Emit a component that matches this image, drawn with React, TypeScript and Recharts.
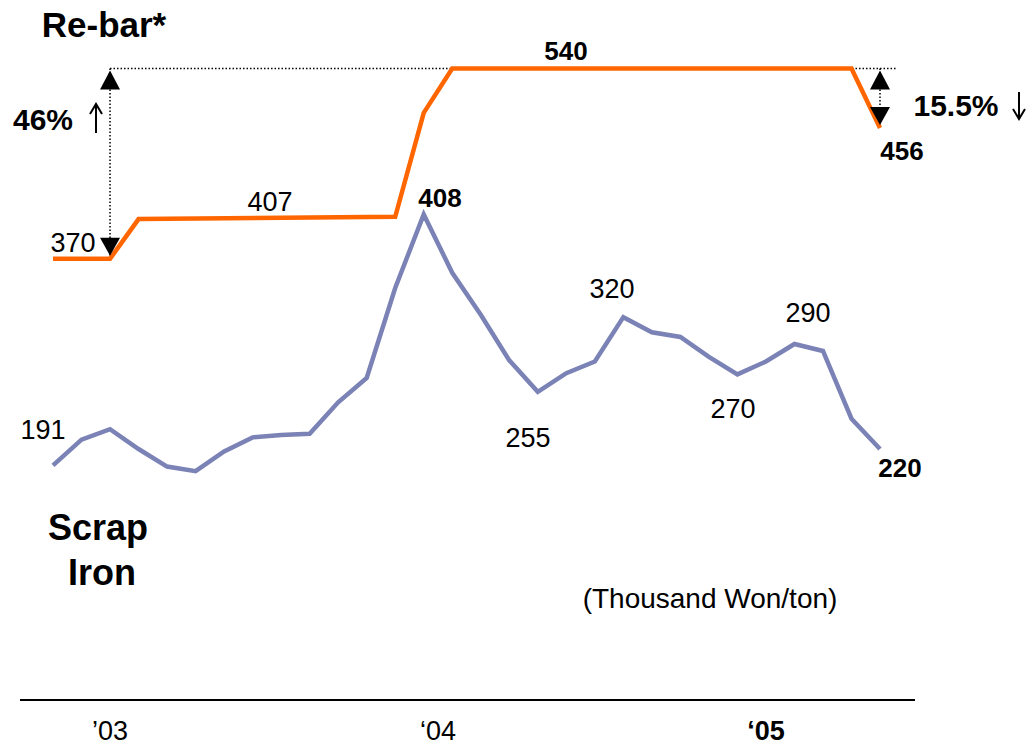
import { LineChart, Line, XAxis, YAxis, ReferenceLine, ReferenceDot } from "recharts"

// month index (0 = first month shown)
const periods = [0, 1, 2, 3, 4, 5, 6, 7, 8, 9, 10, 11, 12, 13, 14, 15, 16, 17, 18, 19, 20, 21, 22, 23, 24, 25, 26, 27, 28, 29]
const scrapIron = [193, 215, 224, 207, 192, 188, 205, 217, 219, 220, 247, 268, 345, 408, 358, 322, 283, 256, 272, 282, 320, 307, 303, 286, 271, 282, 297, 291, 233, 207]
const rebar = [370, null, 370, 404, null, null, null, null, null, null, null, null, 406, 495, 533, null, null, null, null, null, null, null, null, null, null, null, null, null, 533, 482]
const yearTicks = [2, 13.5, 25]
const yearLabels = ["\u201903", "\u201804", "\u201805"]

const chartData = periods.map((p, k) => ({ i: p, scrap: scrapIron[k], rebar: rebar[k] }))

const FONT = "'Liberation Sans', Arial, sans-serif"
const ORANGE = "#FF6600"
const BLUE = "#7B82B5"

const YearTick = ({ x, y, payload, index }: any) => {
    const k = yearTicks.indexOf(payload.value)
    return <text x={x} y={y + 32} textAnchor="middle" fontFamily="'Liberation Sans Narrow', 'Liberation Sans', Arial, sans-serif"
        fontSize={27} fontWeight={k === 2 ? 700 : 400} fill="#000">{yearLabels[k >= 0 ? k : index]}</text>
}

const UpArrow = ({ cx, cy }: any) => <path d={`M${cx},${cy + 2} L${cx + 10},${cy + 21} L${cx - 10},${cy + 21} Z`} fill="#000" />
const DownArrow = ({ cx, cy }: any) => <path d={`M${cx - 10},${cy - 21} L${cx + 10},${cy - 21} L${cx},${cy - 3} Z`} fill="#000" />

type Note = { t: string, x: number, y: number, size: number, bold?: boolean }
const notes: Note[] = [
    { t: "Re-bar*", x: 104, y: 37, size: 35, bold: true },
    { t: "46%", x: 43, y: 130, size: 30, bold: true },
    { t: "15.5%", x: 956, y: 116, size: 30, bold: true },
    { t: "540", x: 566, y: 60, size: 26, bold: true },
    { t: "407", x: 270, y: 211, size: 27 },
    { t: "370", x: 73, y: 252, size: 27 },
    { t: "408", x: 440, y: 207, size: 26, bold: true },
    { t: "456", x: 902, y: 160, size: 26, bold: true },
    { t: "191", x: 43, y: 439, size: 27 },
    { t: "255", x: 528, y: 447, size: 27 },
    { t: "320", x: 612, y: 298, size: 27 },
    { t: "270", x: 733, y: 418, size: 27 },
    { t: "290", x: 808, y: 322, size: 27 },
    { t: "220", x: 900, y: 477, size: 26, bold: true },
    { t: "Scrap", x: 98, y: 540, size: 36, bold: true },
    { t: "Iron", x: 102, y: 585, size: 36, bold: true },
    { t: "(Thousand Won/ton)", x: 710, y: 608, size: 28 },
]

const App = () => {
    return <div style={{ position: "absolute", left: 0, top: 0, width: 1030, height: 746, overflow: "hidden", background: "#fff" }}>
        <LineChart width={1030} height={746} data={chartData} margin={{ top: 37, right: 115, bottom: 16, left: 20 }}>
            <XAxis type="number" dataKey="i" domain={[0, 29]} ticks={yearTicks} padding={{ left: 33, right: 35 }} height={30}
                axisLine={{ stroke: "#000", strokeWidth: 2 }} tickLine={false} tick={<YearTick />} interval={0} />
            <YAxis hide domain={[-8, 560]} allowDataOverflow />
            <ReferenceLine segment={[{ x: 2, y: 533 }, { x: 29.6, y: 533 }]} stroke="#000" strokeWidth={1.5} strokeDasharray="1.5 2" ifOverflow="visible" />
            <ReferenceLine segment={[{ x: 2, y: 533 }, { x: 2, y: 370 }]} stroke="#000" strokeWidth={1.5} strokeDasharray="1.5 2" ifOverflow="visible" />
            <ReferenceLine segment={[{ x: 29, y: 533 }, { x: 29, y: 482 }]} stroke="#000" strokeWidth={1.5} strokeDasharray="1.5 2" ifOverflow="visible" />
            <Line type="linear" dataKey="scrap" stroke={BLUE} strokeWidth={4.5} dot={false} isAnimationActive={false} />
            <Line type="linear" dataKey="rebar" stroke={ORANGE} strokeWidth={4.5} dot={false} connectNulls isAnimationActive={false} />
            <ReferenceDot x={2} y={533} r={0} shape={<UpArrow />} ifOverflow="visible" />
            <ReferenceDot x={2} y={370} r={0} shape={<DownArrow />} ifOverflow="visible" />
            <ReferenceDot x={29} y={533} r={0} shape={<UpArrow />} ifOverflow="visible" />
            <ReferenceDot x={29} y={482} r={0} shape={<DownArrow />} ifOverflow="visible" />
        </LineChart>
        <svg width={1030} height={746} style={{ position: "absolute", left: 0, top: 0, pointerEvents: "none" }}>
            {notes.map((n, k) => (
                <text key={k} x={n.x} y={n.y} textAnchor="middle" fontFamily={FONT}
                    fontSize={n.size} fontWeight={n.bold ? 700 : 400} fill="#000">{n.t}</text>
            ))}
            {/* thin up / down arrows beside the percentages */}
            <path d="M96,133 L96,104 M90,114 L96,104 L102,114" stroke="#000" strokeWidth={2} fill="none" />
            <path d="M1019,92 L1019,119 M1013,109 L1019,119 L1025,109" stroke="#000" strokeWidth={2} fill="none" />
        </svg>
    </div>
}

export default App
